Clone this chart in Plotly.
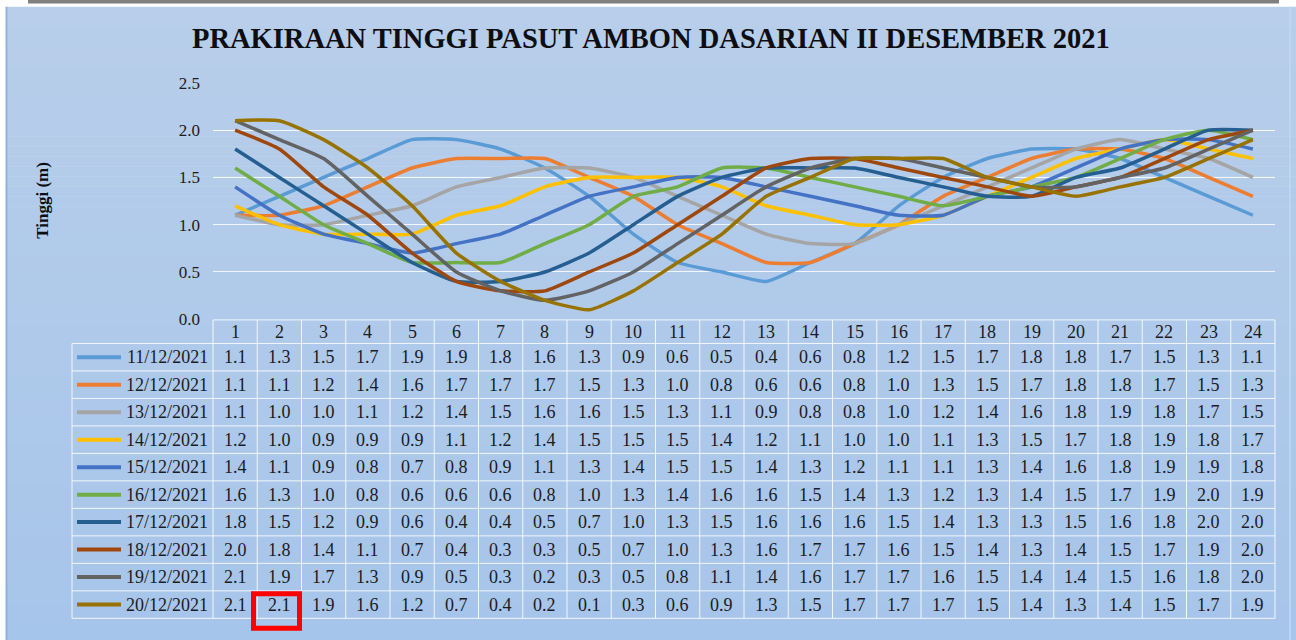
import plotly.graph_objects as go

# Hourly tide forecast (m), Ambon, 11-20 December 2021
hours = list(range(1, 25))
dates = ["11/12/2021", "12/12/2021", "13/12/2021", "14/12/2021", "15/12/2021",
         "16/12/2021", "17/12/2021", "18/12/2021", "19/12/2021", "20/12/2021"]

d11 = [1.1, 1.3, 1.5, 1.7, 1.9, 1.9, 1.8, 1.6, 1.3, 0.9, 0.6, 0.5, 0.4, 0.6, 0.8, 1.2, 1.5, 1.7, 1.8, 1.8, 1.7, 1.5, 1.3, 1.1]
d12 = [1.1, 1.1, 1.2, 1.4, 1.6, 1.7, 1.7, 1.7, 1.5, 1.3, 1.0, 0.8, 0.6, 0.6, 0.8, 1.0, 1.3, 1.5, 1.7, 1.8, 1.8, 1.7, 1.5, 1.3]
d13 = [1.1, 1.0, 1.0, 1.1, 1.2, 1.4, 1.5, 1.6, 1.6, 1.5, 1.3, 1.1, 0.9, 0.8, 0.8, 1.0, 1.2, 1.4, 1.6, 1.8, 1.9, 1.8, 1.7, 1.5]
d14 = [1.2, 1.0, 0.9, 0.9, 0.9, 1.1, 1.2, 1.4, 1.5, 1.5, 1.5, 1.4, 1.2, 1.1, 1.0, 1.0, 1.1, 1.3, 1.5, 1.7, 1.8, 1.9, 1.8, 1.7]
d15 = [1.4, 1.1, 0.9, 0.8, 0.7, 0.8, 0.9, 1.1, 1.3, 1.4, 1.5, 1.5, 1.4, 1.3, 1.2, 1.1, 1.1, 1.3, 1.4, 1.6, 1.8, 1.9, 1.9, 1.8]
d16 = [1.6, 1.3, 1.0, 0.8, 0.6, 0.6, 0.6, 0.8, 1.0, 1.3, 1.4, 1.6, 1.6, 1.5, 1.4, 1.3, 1.2, 1.3, 1.4, 1.5, 1.7, 1.9, 2.0, 1.9]
d17 = [1.8, 1.5, 1.2, 0.9, 0.6, 0.4, 0.4, 0.5, 0.7, 1.0, 1.3, 1.5, 1.6, 1.6, 1.6, 1.5, 1.4, 1.3, 1.3, 1.5, 1.6, 1.8, 2.0, 2.0]
d18 = [2.0, 1.8, 1.4, 1.1, 0.7, 0.4, 0.3, 0.3, 0.5, 0.7, 1.0, 1.3, 1.6, 1.7, 1.7, 1.6, 1.5, 1.4, 1.3, 1.4, 1.5, 1.7, 1.9, 2.0]
d19 = [2.1, 1.9, 1.7, 1.3, 0.9, 0.5, 0.3, 0.2, 0.3, 0.5, 0.8, 1.1, 1.4, 1.6, 1.7, 1.7, 1.6, 1.5, 1.4, 1.4, 1.5, 1.6, 1.8, 2.0]
d20 = [2.1, 2.1, 1.9, 1.6, 1.2, 0.7, 0.4, 0.2, 0.1, 0.3, 0.6, 0.9, 1.3, 1.5, 1.7, 1.7, 1.7, 1.5, 1.4, 1.3, 1.4, 1.5, 1.7, 1.9]
series = [d11, d12, d13, d14, d15, d16, d17, d18, d19, d20]

colors = ["#5B9BD5", "#ED7D31", "#A5A5A5", "#FFC000", "#4472C4",
          "#70AD47", "#255E91", "#9E480E", "#636363", "#997300"]

title_text = "PRAKIRAAN TINGGI PASUT AMBON DASARIAN II DESEMBER 2021"
y_title = "Tinggi (m)"

W, H = 1296, 640
# vertical placement on the page: screen y = Y0 + SY * figure y
Y0, SY = 9.5, 0.969
SERIF = "Liberation Serif, Times New Roman, serif"
TXT = "#1b1b24"
GRID = "rgba(255,255,255,0.85)"


def px(x):
    return x / W


def py(y):
    return 1 - ((y - Y0) / SY) / H


# plot area (screen pixels)
PL, PR = 213, 1275
PT, PB = 83.3, 319.3
colw = (PR - PL) / len(hours)

fig = go.Figure()
for name, vals, col in zip(dates, series, colors):
    fig.add_trace(go.Scatter(x=hours, y=vals, name=name, mode="lines",
                             line=dict(color=col, width=3.5, shape="spline", smoothing=0.5),
                             showlegend=False))

shapes = []
# background panel with a soft vertical gradient
top_c = (184, 206, 234)
bot_c = (166, 197, 234)
nb = 64
y0p, y1p = 7, 645
for i in range(nb):
    t = i / (nb - 1)
    c = tuple(round(top_c[k] + (bot_c[k] - top_c[k]) * t) for k in range(3))
    ya = y0p + (y1p - y0p) * i / nb
    yb = y0p + (y1p - y0p) * (i + 1) / nb + 0.6
    shapes.append(dict(type="rect", xref="paper", yref="paper", layer="below",
                       x0=px(6), x1=px(1296), y0=py(ya), y1=py(yb),
                       fillcolor="rgb(%d,%d,%d)" % c, line=dict(width=0)))
# panel edges and the strip above the panel
shapes.append(dict(type="line", xref="paper", yref="paper", layer="below",
                   x0=px(6.5), x1=px(6.5), y0=py(7), y1=py(645),
                   line=dict(color="#8db4e2", width=2)))
shapes.append(dict(type="line", xref="paper", yref="paper", layer="below",
                   x0=px(1290), x1=px(1290), y0=py(7), y1=py(645),
                   line=dict(color="#c2d8f0", width=1.5)))
shapes.append(dict(type="rect", xref="paper", yref="paper", layer="below",
                   x0=px(0), x1=px(1296), y0=py(-10), y1=py(7),
                   fillcolor="white", line=dict(width=0)))
shapes.append(dict(type="rect", xref="paper", yref="paper", layer="below",
                   x0=px(28), x1=px(1279), y0=py(-10), y1=py(4),
                   fillcolor="#7f7f7f", line=dict(width=0)))

# data table grid
header_top, header_bot = 320, 343.5
row_h = 27.45
n_rows = len(dates)
table_bot = header_bot + n_rows * row_h
leg_left = 72
line_style = dict(color=GRID, width=1)
shapes.append(dict(type="line", xref="paper", yref="paper",
                   x0=px(PL), x1=px(PR), y0=py(header_top), y1=py(header_top), line=line_style))
for k in range(len(hours) + 1):
    xx = PL + k * colw
    shapes.append(dict(type="line", xref="paper", yref="paper",
                       x0=px(xx), x1=px(xx), y0=py(header_top), y1=py(table_bot), line=line_style))
for r in range(n_rows + 1):
    yy = header_bot + r * row_h
    shapes.append(dict(type="line", xref="paper", yref="paper",
                       x0=px(leg_left), x1=px(PR), y0=py(yy), y1=py(yy), line=line_style))
shapes.append(dict(type="line", xref="paper", yref="paper",
                   x0=px(leg_left), x1=px(leg_left), y0=py(header_bot), y1=py(table_bot), line=line_style))

# legend keys in the table
for r, col in enumerate(colors):
    yc = header_bot + (r + 0.5) * row_h
    shapes.append(dict(type="line", xref="paper", yref="paper",
                       x0=px(77), x1=px(121), y0=py(yc), y1=py(yc),
                       line=dict(color=col, width=4)))

# highlighted cell
shapes.append(dict(type="rect", xref="paper", yref="paper",
                   x0=px(253.5), x1=px(299.5), y0=py(593.5), y1=py(628),
                   line=dict(color="#ff0000", width=5), fillcolor="rgba(0,0,0,0)"))

annotations = []
tfont = dict(family=SERIF, size=18, color=TXT)
for k, h in enumerate(hours):
    annotations.append(dict(xref="paper", yref="paper", x=px(PL + (k + 0.5) * colw),
                            y=py((header_top + header_bot) / 2), text=str(h),
                            showarrow=False, font=tfont, xanchor="center", yanchor="middle"))
for r, (name, vals) in enumerate(zip(dates, series)):
    yc = header_bot + (r + 0.5) * row_h
    annotations.append(dict(xref="paper", yref="paper", x=px(210), y=py(yc), text=name,
                            showarrow=False, font=tfont, xanchor="right", yanchor="middle"))
    for k, v in enumerate(vals):
        annotations.append(dict(xref="paper", yref="paper", x=px(PL + (k + 0.5) * colw),
                                y=py(yc), text="%.1f" % v, showarrow=False, font=tfont,
                                xanchor="center", yanchor="middle"))

annotations.append(dict(xref="paper", yref="paper", x=px(651), y=py(39), text="<b>%s</b>" % title_text,
                        showarrow=False, font=dict(family=SERIF, size=28.5, color="#0d0d12"),
                        xanchor="center", yanchor="middle"))
annotations.append(dict(xref="paper", yref="paper", x=px(43), y=py(201), text="<b>%s</b>" % y_title,
                        showarrow=False, textangle=-90, font=dict(family=SERIF, size=17, color="#0d0d12"),
                        xanchor="center", yanchor="middle"))

fig.update_layout(
    width=W, height=H,
    margin=dict(l=0, r=0, t=0, b=0),
    paper_bgcolor="white",
    plot_bgcolor="rgba(0,0,0,0)",
    shapes=shapes,
    annotations=annotations,
    xaxis=dict(domain=[px(PL), px(PR)], range=[0.5, 24.5], showticklabels=False,
               showgrid=False, zeroline=False, showline=False, ticks=""),
    yaxis=dict(domain=[py(PB), py(PT)], range=[0, 2.5], dtick=0.5, tickformat=".1f",
               showgrid=True, gridcolor=GRID, gridwidth=1, zeroline=False, showline=False,
               ticks="", tickfont=dict(family=SERIF, size=17, color=TXT), ticklabelstandoff=12),
)

fig.write_html("out.html")
